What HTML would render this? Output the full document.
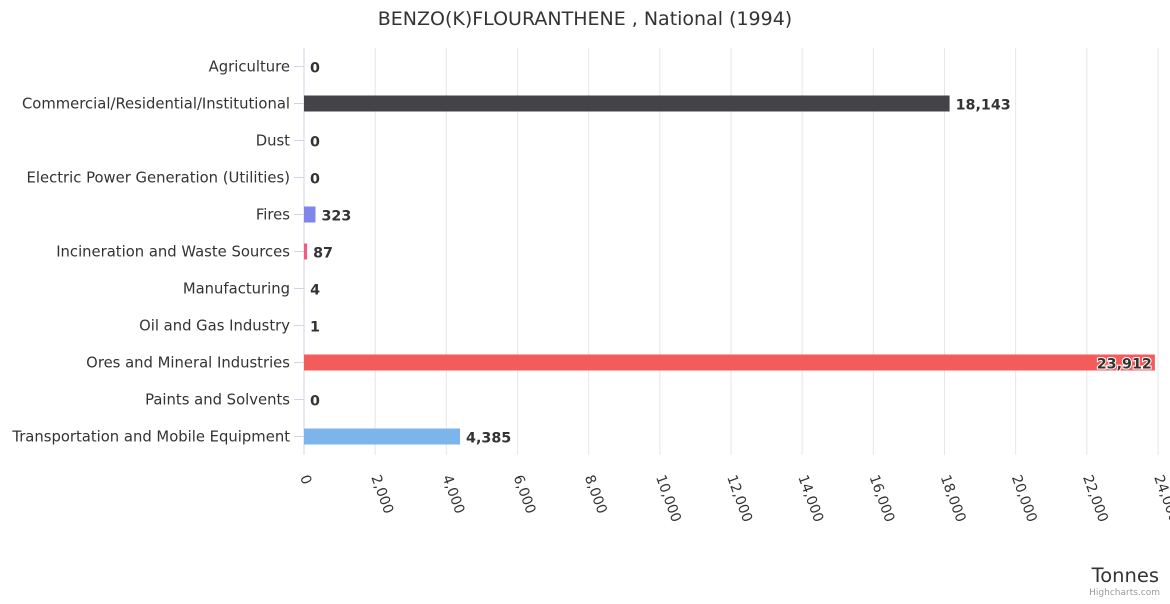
<!DOCTYPE html>
<html><head><meta charset="utf-8"><style>
body{margin:0;background:#fff;font-family:"DejaVu Sans",sans-serif}
text{font-family:"DejaVu Sans",sans-serif}
</style></head><body>
<svg id="chart" width="1170" height="600" xmlns="http://www.w3.org/2000/svg">
<text x="585" y="25" text-anchor="middle" font-size="19" fill="#333">BENZO(K)FLOURANTHENE , National (1994)</text>
<g id="grid"></g><g id="bars"></g><g id="labels"></g>
<text x="1159" y="582" text-anchor="end" font-size="19.5" fill="#333">Tonnes</text>
<text x="1160" y="595" text-anchor="end" font-size="9" fill="#999">Highcharts.com</text>
</svg>
<script>
const categories=["Agriculture","Commercial/Residential/Institutional","Dust","Electric Power Generation (Utilities)","Fires","Incineration and Waste Sources","Manufacturing","Oil and Gas Industry","Ores and Mineral Industries","Paints and Solvents","Transportation and Mobile Equipment"];
const values=[0,18143,0,0,323,87,4,1,23912,0,4385];
const ticks=[0,2000,4000,6000,8000,10000,12000,14000,16000,18000,20000,22000,24000];
const colors=["#7cb5ec","#434348","#90ed7d","#f7a35c","#8085e9","#f15c80","#e4d354","#2b908f","#f45b5b","#91e8e1"];
const NS="http://www.w3.org/2000/svg";
const L=304,R=1158,T=48,B=455,max=24000,step=(B-T)/categories.length;
const x=v=>L+v/max*(R-L), y=i=>T+(i+0.5)*step;
function mk(t,a,p){const e=document.createElementNS(NS,t);for(const k in a)e.setAttribute(k,a[k]);p.appendChild(e);return e;}
const g=document.getElementById('grid'),b=document.getElementById('bars'),lb=document.getElementById('labels');
ticks.forEach(t=>{
 const l=mk('line',{x1:x(t),x2:x(t),y1:T,y2:B,stroke:t===0?'#ccd6eb':'#e6e6e6'},g);
 
 
 const tx=mk('text',{x:x(t)-4,y:B+22,'font-size':14,fill:'#333',transform:`rotate(70 ${x(t)-4} ${B+22})`},g);
 tx.textContent=t.toLocaleString('en-US');
 
 
});
categories.forEach((c,i)=>{
 const tk=mk('line',{x1:L-10,x2:L,y1:y(i),y2:y(i),stroke:'#ccd6eb'},g);
 
 
 const ct=mk('text',{x:L-14,y:y(i)+5,'text-anchor':'end','font-size':14.8,fill:'#333'},lb);
 ct.textContent=c;
 
 
 const v=values[i];
 const r=mk('rect',{x:L,y:y(i)-8,width:x(v)-L,height:16,fill:colors[i%10]},b);
 
 
 const inside=x(v)+70>1170;
 const vt=mk('text',{x:inside?x(v)-3:x(v)+6,y:y(i)+6,'text-anchor':inside?'end':'start','font-size':14.3,'font-weight':'bold',fill:'#333',stroke:'#fff','stroke-width':inside?2:0,'paint-order':'stroke'},lb);
 vt.textContent=v.toLocaleString('en-US');
 
 
});
mk('line',{x1:L,x2:L,y1:T,y2:B,stroke:'#ccd6eb'},g);
</script>
</body></html>
